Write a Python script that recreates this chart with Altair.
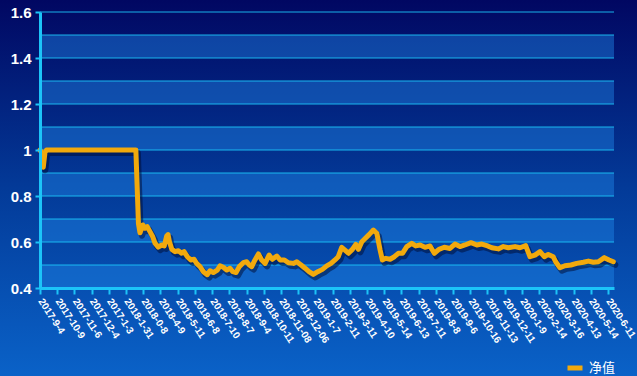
import altair as alt
import pandas as pd

# ---------------- data ----------------
x_labels = ["2017-9-4", "2017-10-9", "2017-11-6", "2017-12-4", "2017-1-3", "2018-1-31",
            "2018-0-8", "2018-4-9", "2018-5-11", "2018-6-8", "2018-7-10", "2018-8-7",
            "2018-9-4", "2018-10-11", "2018-11-08", "2018-12-06", "2019-1-7", "2019-2-11",
            "2019-3-11", "2019-4-10", "2019-5-14", "2019-6-13", "2019-7-11", "2019-8-8",
            "2019-9-6", "2019-10-16", "2019-11-13", "2019-12-11", "2020-1-9", "2020-2-14",
            "2020-3-16", "2020-4-13", "2020-5-14", "2020-6-11"]

# position along the category axis (tick index) and net value
pos = [0, 0.09, 0.19, 0.29, 0.38, 5.51, 5.57, 5.72, 5.81, 5.97, 6.10, 6.23, 6.39, 6.55,
       6.68, 6.87, 7.07, 7.22, 7.36, 7.44, 7.52, 7.66, 7.85, 8.04, 8.23, 8.37, 8.56, 8.76,
       8.95, 9.10, 9.30, 9.49, 9.72, 9.88, 10.07, 10.30, 10.46, 10.65, 10.85, 11.04, 11.20,
       11.39, 11.58, 11.81, 12.01, 12.16, 12.30, 12.49, 12.69, 12.88, 13.08, 13.31, 13.50,
       13.76, 13.95, 14.20, 14.43, 14.72, 14.92, 15.17, 15.40, 15.63, 15.88, 16.14, 16.41,
       16.66, 16.91, 17.14, 17.33, 17.53, 17.72, 17.92, 18.15, 18.35, 18.50, 18.70, 18.89,
       19.12, 19.37, 19.57, 19.76, 19.89, 20.09, 20.34, 20.59, 20.82, 21.06, 21.31, 21.60,
       21.83, 22.08, 22.37, 22.66, 22.91, 23.18, 23.49, 23.82, 24.11, 24.40, 24.69, 25.04,
       25.38, 25.67, 26.01, 26.25, 26.63, 26.92, 27.21, 27.60, 27.89, 28.22, 28.47, 28.76,
       29.05, 29.30, 29.53, 29.82, 29.96, 30.21, 30.50, 30.85, 31.18, 31.57, 31.86, 32.15,
       32.44, 32.79, 33.06, 33.31]
nav = [1.0, 0.99, 0.925, 0.99, 1.0, 1.0, 1.0, 0.68, 0.64, 0.674, 0.66, 0.667, 0.645, 0.623,
       0.595, 0.578, 0.587, 0.583, 0.626, 0.632, 0.601, 0.568, 0.558, 0.562, 0.551, 0.558,
       0.536, 0.522, 0.525, 0.507, 0.493, 0.471, 0.458, 0.475, 0.467, 0.478, 0.496, 0.490,
       0.478, 0.486, 0.471, 0.467, 0.493, 0.510, 0.514, 0.500, 0.493, 0.522, 0.548, 0.522,
       0.507, 0.543, 0.525, 0.539, 0.522, 0.522, 0.510, 0.507, 0.514, 0.500, 0.486, 0.471,
       0.459, 0.471, 0.481, 0.496, 0.507, 0.522, 0.536, 0.577, 0.565, 0.551, 0.568, 0.590,
       0.568, 0.601, 0.615, 0.632, 0.652, 0.638, 0.565, 0.522, 0.529, 0.525, 0.536, 0.551,
       0.551, 0.580, 0.594, 0.583, 0.587, 0.577, 0.583, 0.551, 0.568, 0.577, 0.572, 0.591,
       0.580, 0.587, 0.597, 0.587, 0.591, 0.583, 0.575, 0.570, 0.580, 0.575, 0.580, 0.575,
       0.584, 0.536, 0.543, 0.558, 0.536, 0.546, 0.536, 0.514, 0.488, 0.497, 0.500, 0.507,
       0.512, 0.517, 0.512, 0.514, 0.532, 0.522, 0.514]
series_name = "净值"

band_lo = [1.4, 1.2, 1.0, 0.8, 0.6, 0.4]
band_hi = [1.5, 1.3, 1.1, 0.9, 0.7, 0.5]
grid_vals = [0.4, 0.5, 0.6, 0.7, 0.8, 0.9, 1.0, 1.1, 1.2, 1.3, 1.4, 1.5, 1.6]
y_ticks = [0.4, 0.6, 0.8, 1.0, 1.2, 1.4, 1.6]
x_ticks = list(range(len(x_labels)))

# ---------------- chart ----------------
W, H = 574, 276
PAD = {"left": 40, "top": 12, "right": 23, "bottom": 88}
CYAN = "#1cc4f8"
GOLD = "#f2a90c"

line_df = pd.DataFrame({"pos": pos, "nav": nav, "series": series_name})
band_df = pd.DataFrame({"lo": band_lo, "hi": band_hi})
grid_df = pd.DataFrame({"g": grid_vals})

xs = alt.Scale(domain=[0, 33.35], nice=False, zero=False)
ys = alt.Scale(domain=[0.4, 1.6], nice=False, zero=False)

label_arr = "[" + ",".join("'%s'" % s for s in x_labels) + "]"

x_axis = alt.Axis(values=x_ticks, tickCount=len(x_labels),
                  labelExpr=label_arr + "[datum.value]",
                  labelAngle=57, labelAlign="left", labelBaseline="middle",
                  labelFont="Liberation Sans", labelFontWeight="bold",
                  labelFontSize=10, labelColor="white", labelPadding=5,
                  labelOverlap=False, labelBound=False, labelFlush=False,
                  domainColor=CYAN, domainWidth=3,
                  tickColor=CYAN, tickWidth=2, tickSize=6,
                  grid=False, zindex=1)
y_axis = alt.Axis(values=y_ticks, format="~g",
                  labelFont="Liberation Sans", labelFontWeight="bold",
                  labelFontSize=15, labelColor="white", labelPadding=4,
                  labelOverlap=False,
                  domainColor=CYAN, domainWidth=3,
                  tickColor=CYAN, tickWidth=2, tickSize=5,
                  grid=False, zindex=1)

bg = alt.Chart(pd.DataFrame({"k": [0]})).mark_rect(
    color=alt.LinearGradient(
        gradient="linear", x1=0, x2=0, y1=0, y2=1,
        stops=[alt.GradientStop(color="#010762", offset=0),
               alt.GradientStop(color="#033a98", offset=0.5),
               alt.GradientStop(color="#0a62c8", offset=1)],
    )
).encode(
    x=alt.value(-PAD["left"]), x2=alt.value(W + PAD["right"]),
    y=alt.value(-PAD["top"]), y2=alt.value(H + PAD["bottom"]),
)

bands = alt.Chart(band_df).mark_rect(color="#1f86e6", opacity=0.45).encode(
    y=alt.Y("lo:Q", scale=ys, axis=y_axis, title=None), y2="hi:Q",
    x=alt.value(0), x2=alt.value(W),
)

grid = alt.Chart(grid_df).mark_rule(color=CYAN, strokeWidth=1, opacity=0.9).encode(
    y=alt.Y("g:Q", scale=ys, axis=y_axis, title=None),
)

shadow = alt.Chart(line_df).mark_line(
    color="#000a30", opacity=0.5, strokeWidth=6, xOffset=2, yOffset=3,
    strokeJoin="round", strokeCap="round",
).encode(
    x=alt.X("pos:Q", scale=xs, axis=x_axis, title=None),
    y=alt.Y("nav:Q", scale=ys, axis=y_axis, title=None),
)

line = alt.Chart(line_df).mark_line(
    strokeWidth=5, strokeJoin="round", strokeCap="round",
).encode(
    x=alt.X("pos:Q", scale=xs, axis=x_axis, title=None),
    y=alt.Y("nav:Q", scale=ys, axis=y_axis, title=None),
    color=alt.Color("series:N",
                    scale=alt.Scale(domain=[series_name], range=[GOLD]),
                    legend=alt.Legend(orient="none", legendX=525, legendY=346,
                                      title=None, symbolType="stroke",
                                      symbolStrokeWidth=5, symbolSize=225,
                                      labelColor="white", labelFontSize=13,
                                      labelFont="Noto Sans CJK SC", labelOffset=4)),
)

chart = alt.layer(bg, bands, grid, shadow, line).properties(
    width=W, height=H,
    autosize=alt.AutoSizeParams(type="none"),
    padding=PAD,
    background="#0340a0",
).configure_view(stroke=None)

chart.save("out.html", embed_options={"renderer": "svg", "actions": False})
